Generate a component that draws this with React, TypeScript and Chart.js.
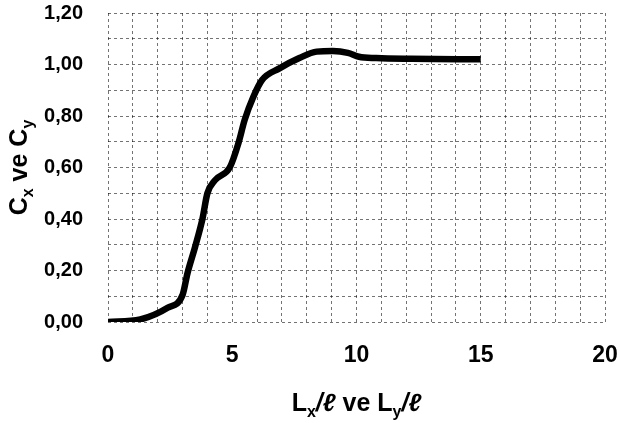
import React, { useEffect, useRef } from "react";
import { Chart, registerables } from "chart.js";

Chart.register(...registerables);

const xValues = [0, 1.3, 2.4, 3.0, 3.2, 3.5, 3.8, 4.0, 4.3, 4.9, 5.25, 5.5, 5.85, 6.2, 6.9, 7.7, 8.4, 9.05, 9.65, 10.1, 10.8, 12.2, 15];
const yValues = [0, 0.01, 0.055, 0.105, 0.19, 0.29, 0.4, 0.5, 0.55, 0.6, 0.695, 0.785, 0.875, 0.94, 0.985, 1.025, 1.05, 1.052, 1.045, 1.03, 1.025, 1.022, 1.02];
const xLabeled = [0, 5, 10, 15, 20];
const yLabeled = ["0,00", "0,20", "0,40", "0,60", "0,80", "1,00", "1,20"];

const FONT = "'Liberation Sans', Arial, sans-serif";

type Part = { t: string; sub?: boolean; italic?: boolean };
const yTitle: Part[] = [{ t: "C" }, { t: "x", sub: true }, { t: " ve " }, { t: "C" }, { t: "y", sub: true }];
const xTitle: Part[] = [
  { t: "L" }, { t: "x", sub: true }, { t: "/ℓ", italic: true }, { t: " ve " },
  { t: "L" }, { t: "y", sub: true }, { t: "/ℓ", italic: true },
];

function drawParts(ctx: CanvasRenderingContext2D, parts: Part[], size: number) {
  const fontOf = (p: Part) =>
    `${p.italic ? "italic " : ""}bold ${p.sub ? Math.round(size * 0.62) : size}px ${FONT}`;
  let total = 0;
  for (const p of parts) {
    ctx.font = fontOf(p);
    total += ctx.measureText(p.t).width;
  }
  let x = -total / 2;
  for (const p of parts) {
    ctx.font = fontOf(p);
    ctx.fillText(p.t, x, p.sub ? size * 0.22 : 0);
    x += ctx.measureText(p.t).width;
  }
}

const titlePlugin = {
  id: "subTitles",
  afterDraw(chart: any) {
    const ctx: CanvasRenderingContext2D = chart.ctx;
    const area = chart.chartArea;
    ctx.save();
    ctx.fillStyle = "#000";
    ctx.textBaseline = "alphabetic";
    ctx.textAlign = "left";
    ctx.save();
    ctx.translate(27, (area.top + area.bottom) / 2);
    ctx.rotate(-Math.PI / 2);
    drawParts(ctx, yTitle, 25);
    ctx.restore();
    ctx.save();
    ctx.translate((area.left + area.right) / 2, 411);
    drawParts(ctx, xTitle, 25);
    ctx.restore();
    ctx.restore();
  },
};

const zeroPad = (s: any) => {
  s.paddingTop = 0;
  s.paddingBottom = 0;
  s.paddingLeft = 0;
  s.paddingRight = 0;
};

export default function App() {
  const ref = useRef<HTMLCanvasElement | null>(null);
  useEffect(() => {
    if (!ref.current) return;
    const chart = new Chart(ref.current, {
      type: "line",
      data: {
        datasets: [
          {
            data: xValues.map((x, i) => ({ x, y: yValues[i] })),
            borderColor: "#000",
            borderWidth: 6.5,
            pointRadius: 0,
            cubicInterpolationMode: "monotone",
            fill: false,
          },
        ],
      },
      options: {
        responsive: false,
        animation: false,
        layout: { padding: { top: 13, right: 15, left: 0, bottom: 0 } },
        plugins: { legend: { display: false }, tooltip: { enabled: false } },
        scales: {
          x: {
            type: "linear",
            min: 0,
            max: 20,
            afterFit: (s: any) => { s.height = 101; zeroPad(s); },
            border: { display: false, dash: [3, 3] },
            grid: { color: "rgba(0,0,0,0.55)", lineWidth: 1, drawTicks: false },
            ticks: {
              stepSize: 1,
              autoSkip: false,
              maxRotation: 0,
              padding: 20,
              color: "#000",
              font: { family: FONT, size: 23, weight: "bold" },
              callback: (v: any) => (xLabeled.includes(Number(v)) ? String(v) : ""),
            },
          },
          y: {
            min: 0,
            max: 1.2,
            afterFit: (s: any) => { s.width = 108; zeroPad(s); },
            border: { display: false, dash: [3, 3] },
            grid: { color: "rgba(0,0,0,0.55)", lineWidth: 1, drawTicks: false },
            ticks: {
              stepSize: 0.1,
              autoSkip: false,
              padding: 25,
              color: "#000",
              font: { family: FONT, size: 20, weight: "bold" },
              callback: (v: any) => {
                const k = Math.round(Number(v) * 10);
                return k % 2 === 0 ? yLabeled[k / 2] : "";
              },
            },
          },
        },
      } as any,
      plugins: [titlePlugin],
    });
    return () => chart.destroy();
  }, []);
  return (
    <div style={{ position: "absolute", left: 0, top: 0, width: 620, height: 423, background: "#fff" }}>
      <canvas ref={ref} width={620} height={423} />
    </div>
  );
}
